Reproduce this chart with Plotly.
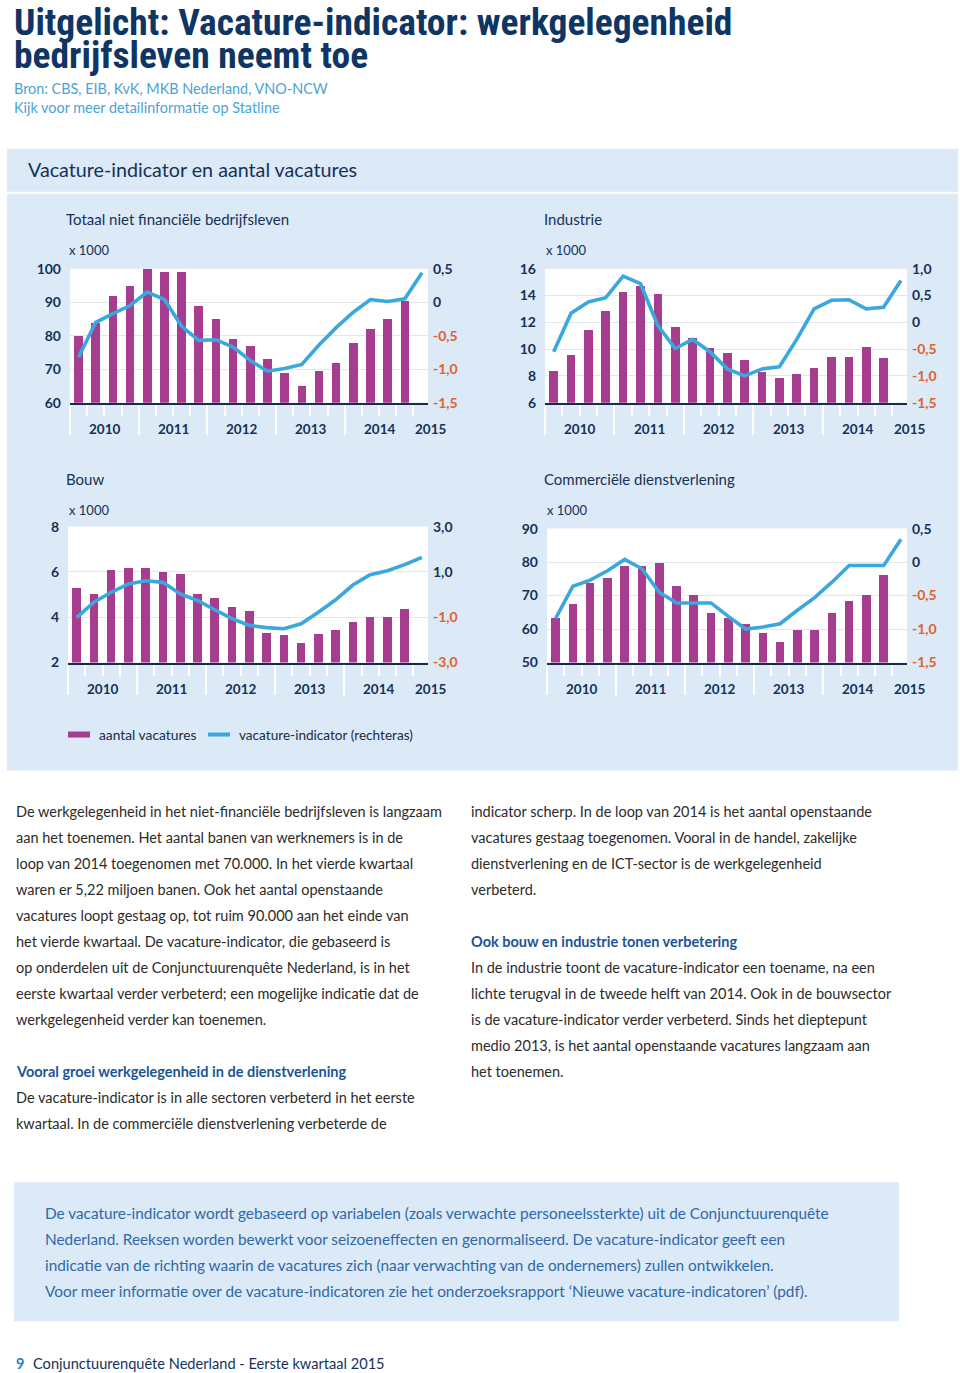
import plotly.graph_objects as go

W, H = 960, 1373

# ---------------- data ----------------
quarters = list(range(20))        # 2010 K1 .. 2014 K4 (bars)
quarters_line = list(range(21))   # 2010 K1 .. 2015 K1 (indicator)
year_labels = ["2010", "2011", "2012", "2013", "2014", "2015"]

panel_titles = ["Totaal niet financiële bedrijfsleven", "Industrie",
                "Bouw", "Commerciële dienstverlening"]

vac_totaal = [80, 84, 92, 95, 100, 99, 99, 89, 85, 79, 77, 73, 69, 65, 69.5, 72, 78, 82, 85, 90.5]
ind_totaal = [-0.82, -0.30, -0.17, -0.05, 0.15, 0.04, -0.36, -0.57, -0.56, -0.67, -0.87,
              -1.03, -0.99, -0.93, -0.64, -0.38, -0.15, 0.04, 0.01, 0.05, 0.44]

vac_industrie = [8.4, 9.6, 11.45, 12.85, 14.25, 14.7, 14.1, 11.65, 10.85, 10.1, 9.7, 9.2,
                 8.3, 7.9, 8.15, 8.6, 9.4, 9.4, 10.2, 9.35]
ind_industrie = [-0.55, 0.17, 0.38, 0.46, 0.86, 0.72, -0.06, -0.49, -0.32, -0.55, -0.87,
                 -1.0, -0.87, -0.83, -0.32, 0.25, 0.41, 0.42, 0.25, 0.28, 0.78]

vac_bouw = [5.32, 5.06, 6.1, 6.19, 6.19, 6.0, 5.91, 5.06, 4.85, 4.47, 4.3, 3.33, 3.24, 2.86,
            3.26, 3.45, 3.81, 4.02, 4.02, 4.39]
ind_bouw = [-1.02, -0.34, 0.10, 0.47, 0.61, 0.54, 0.03, -0.26, -0.67, -1.06, -1.36, -1.46,
            -1.51, -1.29, -0.78, -0.23, 0.42, 0.88, 1.05, 1.32, 1.64]

vac_comm = [63.3, 67.6, 73.8, 75.5, 79, 79, 79.9, 73, 70.2, 65, 63.3, 61.5, 59, 56.3, 59.9,
            59.9, 65, 68.6, 70.2, 76.4]
ind_comm = [-0.84, -0.36, -0.27, -0.13, 0.04, -0.10, -0.45, -0.61, -0.61, -0.61, -0.81,
            -1.0, -0.97, -0.92, -0.72, -0.53, -0.30, -0.05, -0.05, -0.05, 0.34]

left_ticks = [[60, 70, 80, 90, 100], [6, 8, 10, 12, 14, 16], [2, 4, 6, 8], [50, 60, 70, 80, 90]]
right_ticks = [[-1.5, -1.0, -0.5, 0, 0.5], [-1.5, -1.0, -0.5, 0, 0.5, 1.0],
               [-3.0, -1.0, 1.0, 3.0], [-1.5, -1.0, -0.5, 0, 0.5]]

vacatures = [vac_totaal, vac_industrie, vac_bouw, vac_comm]
indicatoren = [ind_totaal, ind_industrie, ind_bouw, ind_comm]

legend_labels = ["aantal vacatures", "vacature-indicator (rechteras)"]

body_col1 = [
    "De werkgelegenheid in het niet-financiële bedrijfsleven is langzaam",
    "aan het toenemen. Het aantal banen van werknemers is in de",
    "loop van 2014 toegenomen met 70.000. In het vierde kwartaal",
    "waren er 5,22 miljoen banen. Ook het aantal openstaande",
    "vacatures loopt gestaag op, tot ruim 90.000 aan het einde van",
    "het vierde kwartaal. De vacature-indicator, die gebaseerd is",
    "op onderdelen uit de Conjunctuurenquête Nederland, is in het",
    "eerste kwartaal verder verbeterd; een mogelijke indicatie dat de",
    "werkgelegenheid verder kan toenemen.",
    "",
    "#Vooral groei werkgelegenheid in de dienstverlening",
    "De vacature-indicator is in alle sectoren verbeterd in het eerste",
    "kwartaal. In de commerciële dienstverlening verbeterde de",
]
body_col2 = [
    "indicator scherp. In de loop van 2014 is het aantal openstaande",
    "vacatures gestaag toegenomen. Vooral in de handel, zakelijke",
    "dienstverlening en de ICT-sector is de werkgelegenheid",
    "verbeterd.",
    "",
    "#Ook bouw en industrie tonen verbetering",
    "In de industrie toont de vacature-indicator een toename, na een",
    "lichte terugval in de tweede helft van 2014. Ook in de bouwsector",
    "is de vacature-indicator verder verbeterd. Sinds het dieptepunt",
    "medio 2013, is het aantal openstaande vacatures langzaam aan",
    "het toenemen.",
]
info_lines = [
    "De vacature-indicator wordt gebaseerd op variabelen (zoals verwachte personeelssterkte) uit de Conjunctuurenquête",
    "Nederland. Reeksen worden bewerkt voor seizoeneffecten en genormaliseerd. De vacature-indicator geeft een",
    "indicatie van de richting waarin de vacatures zich (naar verwachting van de ondernemers) zullen ontwikkelen.",
    "Voor meer informatie over de vacature-indicatoren zie het onderzoeksrapport ‘Nieuwe vacature-indicatoren’ (pdf).",
]

# ---------------- style ----------------
PURPLE = "#a63d8e"
BLUE = "#3aa8de"
NAVY = "#14325a"
ORANGE = "#e0612c"
BOXBG = "#dce9f6"
FONT = "Lato, 'Open Sans', sans-serif"
TITLEFONT = "'Liberation Sans Narrow', 'Roboto Condensed', Lato, sans-serif"

# vertical correction for how the page gets photographed
V_OFF, V_SC = 8.2, 0.988


def X(px):
    return px / W


def Y(py):
    return 1 - ((py - V_OFF) / V_SC) / H


def fmt(v):
    s = ("%.1f" % v).replace(".", ",")
    if s in ("0,0", "-0,0"):
        s = "0"
    if v < 0:
        return "<span style='color:%s'>%s</span>" % (ORANGE, s)
    return s


# plot areas in pixels: (x0, x1, ytop, ybottom)
areas = [(70, 428, 268, 402), (545, 907, 268, 402), (68, 428, 526, 662), (547, 907, 528, 662)]

fig = go.Figure()
annotations = []
shapes = []


def txt(px, py, s, size, color, weight="normal", family=FONT, anchor="left"):
    annotations.append(dict(x=X(px), y=Y(py), xref="paper", yref="paper", text=s,
                            showarrow=False, xanchor=anchor, yanchor="middle",
                            font=dict(size=size, color=color, family=family, weight=weight)))


# background box
shapes.append(dict(type="rect", xref="paper", yref="paper", x0=X(7), x1=X(958), y0=Y(770), y1=Y(148),
                   fillcolor=BOXBG, line=dict(width=0), layer="below"))
shapes.append(dict(type="line", xref="paper", yref="paper", x0=X(7), x1=X(958), y0=Y(192), y1=Y(192),
                   line=dict(color="white", width=2), layer="below"))
# info box
shapes.append(dict(type="rect", xref="paper", yref="paper", x0=X(14), x1=X(899), y0=Y(1321), y1=Y(1182),
                   fillcolor=BOXBG, line=dict(width=0), layer="below"))

for i in range(4):
    n = i + 1
    xn = "x" if n == 1 else "x%d" % n
    yl = "y" if n == 1 else "y%d" % n
    yr = "y%d" % (n + 4)
    x0, x1, yt, yb = areas[i]

    fig.add_trace(go.Bar(x=quarters, y=vacatures[i], xaxis=xn, yaxis=yl, width=0.5,
                         marker=dict(color=PURPLE, line=dict(width=0)), showlegend=False,
                         name=legend_labels[0]))
    fig.add_trace(go.Scatter(x=quarters_line, y=indicatoren[i], xaxis=xn, yaxis=yr, mode="lines",
                             line=dict(color=BLUE, width=3.6), showlegend=False,
                             name=legend_labels[1]))

    xkey = "xaxis" if n == 1 else "xaxis%d" % n
    ykey = "yaxis" if n == 1 else "yaxis%d" % n
    rkey = "yaxis%d" % (n + 4)
    year_bounds = [q - 0.5 for q in quarters[::4]]
    fig.layout[xkey] = dict(domain=[X(x0), X(x1)], anchor=yl, range=[-0.5, 20.35],
                            showgrid=False, zeroline=False, showline=True, linecolor="#1a2a48",
                            linewidth=2, ticks="outside", tickvals=year_bounds, ticklen=30,
                            tickcolor="white", tickwidth=1.5, showticklabels=False,
                            minor=dict(ticks="outside", dtick=1, tick0=-0.5, ticklen=11,
                                       tickcolor="white", tickwidth=1.5))
    lt = left_ticks[i]
    fig.layout[ykey] = dict(domain=[Y(yb), Y(yt)], anchor=xn, range=[lt[0], lt[-1]],
                            tickvals=lt, ticktext=[str(v) for v in lt], showgrid=True,
                            gridcolor="#e1e7ef", gridwidth=1, zeroline=False, showline=False,
                            ticks="", ticklabelstandoff=8,
                            tickfont=dict(size=14, color=NAVY, family=FONT, weight="bold"))
    rt = right_ticks[i]
    fig.layout[rkey] = dict(overlaying=yl, anchor=xn, side="right", range=[rt[0], rt[-1]],
                            tickvals=rt, ticktext=[fmt(v) for v in rt], showgrid=False,
                            zeroline=False, showline=False, ticks="", ticklabelstandoff=4,
                            tickfont=dict(size=14, color=NAVY, family=FONT, weight="bold"))

    # white plot background
    shapes.append(dict(type="rect", xref="%s domain" % xn, yref="%s domain" % yl, x0=0, x1=1, y0=0, y1=1,
                       fillcolor="white", line=dict(width=0), layer="below"))

    # year labels
    label_y = Y(yb + 26)
    for k, lab in enumerate(year_labels[:-1]):
        annotations.append(dict(x=quarters[k * 4] + 1.5, y=label_y, xref=xn, yref="paper", text=lab,
                                showarrow=False, xanchor="center", yanchor="middle",
                                font=dict(size=13.5, color=NAVY, family=FONT, weight="bold")))
    annotations.append(dict(x=quarters_line[-1], y=label_y, xref=xn, yref="paper", text=year_labels[-1],
                            showarrow=False, xanchor="center", yanchor="middle", xshift=9,
                            font=dict(size=13.5, color=NAVY, family=FONT, weight="bold")))

# panel titles and unit labels
txt(64, 218, panel_titles[0], 15, NAVY)
txt(542, 218, panel_titles[1], 15, NAVY)
txt(64, 478, panel_titles[2], 15, NAVY)
txt(542, 478, panel_titles[3], 15, NAVY)
for (px, py) in [(67, 249), (544, 249), (67, 509), (545, 509)]:
    txt(px, py, "x 1000", 13, NAVY)

# titles
txt(12, 21, "Uitgelicht: Vacature-indicator: werkgelegenheid", 37.5, "#0e3564", weight="bold", family=TITLEFONT)
txt(12, 54, "bedrijfsleven neemt toe", 37.5, "#0e3564", weight="bold", family=TITLEFONT)
txt(12, 88, "Bron: CBS, EIB, KvK, MKB Nederland, VNO-NCW", 14.4, "#4aa4d7")
txt(12, 107, "Kijk voor meer detailinformatie op Statline", 14.4, "#4aa4d7")
txt(26, 169, "Vacature-indicator en aantal vacatures", 19.7, NAVY)

# legend
shapes.append(dict(type="rect", xref="paper", yref="paper", x0=X(68), x1=X(90), y0=Y(737), y1=Y(731),
                   fillcolor=PURPLE, line=dict(width=0)))
shapes.append(dict(type="line", xref="paper", yref="paper", x0=X(208), x1=X(230), y0=Y(734), y1=Y(734),
                   line=dict(color=BLUE, width=4)))
txt(97, 734, legend_labels[0], 13.8, "#1d2b45")
txt(237, 734, legend_labels[1], 13.6, "#1d2b45")

# body text
BODY = "#2b2b2b"
SUB = "#1a5596"
for col_x, col in ((14, body_col1), (469, body_col2)):
    for k, line in enumerate(col):
        if not line:
            continue
        if line.startswith("#"):
            txt(col_x, 811 + 26 * k, line[1:], 14.5, SUB, weight="bold")
        else:
            txt(col_x, 811 + 26 * k, line, 14.5, BODY)

for k, line in enumerate(info_lines):
    txt(43, 1213 + 26 * k, line, 15.35, "#2f68a8")

# footer
txt(14, 1363, "9", 14.5, "#2a7fc1", weight="bold")
txt(31, 1363, "Conjunctuurenquête Nederland - Eerste kwartaal 2015", 14.6, NAVY)

fig.update_layout(width=W, height=H, autosize=False, margin=dict(l=0, r=0, t=0, b=0),
                  paper_bgcolor="white", plot_bgcolor="rgba(0,0,0,0)", showlegend=False,
                  bargap=0, annotations=annotations, shapes=shapes)

PAGE_FIX = (
    "var s=document.documentElement.style, b=document.body.style;"
    "s.margin='0';s.padding='0';s.overflow='hidden';s.height='%dpx';"
    "b.margin='0';b.padding='0';b.overflow='hidden';b.height='%dpx';"
    "var w=document.body.firstElementChild; if(w){w.style.fontSize='0';w.style.lineHeight='0';}"
) % (H, H)

fig.write_html("out.html", config={"displayModeBar": False}, post_script=PAGE_FIX)
